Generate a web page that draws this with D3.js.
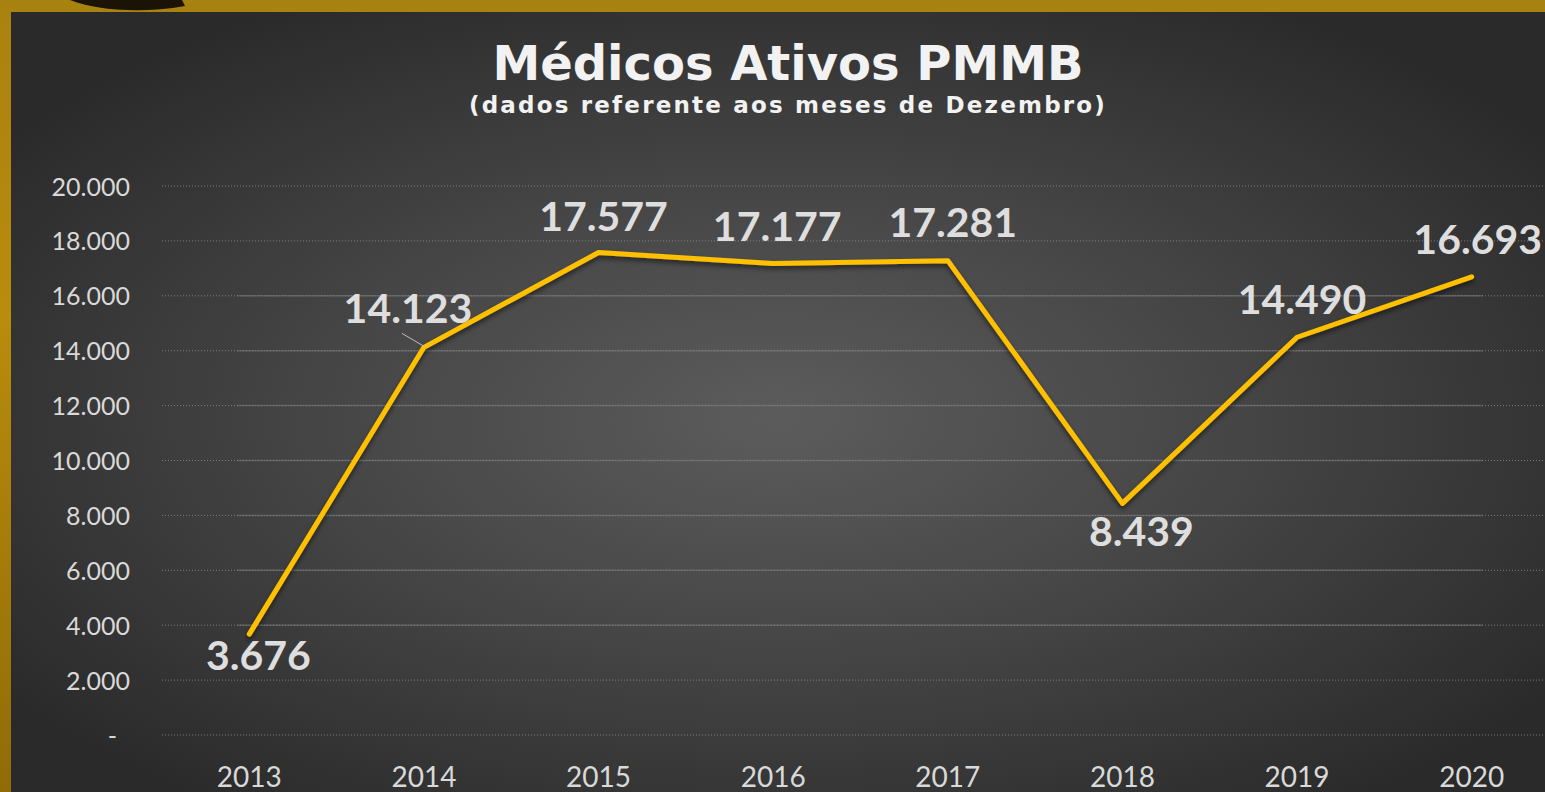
<!DOCTYPE html>
<html>
<head>
<meta charset="utf-8">
<script src="https://cdn.jsdelivr.net/npm/d3@7"></script>
<style>
  body { margin: 0; background: #a07a0a; }
  svg { display: block; }
</style>
</head>
<body>
<svg id="chart" width="1545" height="792"></svg>
<script>
const years = ["2013", "2014", "2015", "2016", "2017", "2018", "2019", "2020"];
const medicos = [3676, 14123, 17577, 17177, 17281, 8439, 14490, 16693];
const yTicks = [0, 2000, 4000, 6000, 8000, 10000, 12000, 14000, 16000, 18000, 20000];
const title = "Médicos Ativos PMMB";
const subtitle = "(dados referente aos meses de Dezembro)";

// label placement relative to the point (dx, dy of baseline)
const labelOffsets = [[9, 36], [-16, -24], [5, -22], [4, -22], [5, -24], [19, 43], [5, -23], [6, -23]];

const W = 1545, H = 792;
const margin = { top: 186, bottom: 57, left: 162, right: -14 };

const svg = d3.select("#chart");
const defs = svg.append("defs");

const gold = defs.append("linearGradient").attr("id", "gold")
  .attr("x1", 0).attr("y1", 0).attr("x2", 0).attr("y2", 1);
gold.append("stop").attr("offset", 0).attr("stop-color", "#a88210");
gold.append("stop").attr("offset", 0.4).attr("stop-color", "#b88c0c");
gold.append("stop").attr("offset", 1).attr("stop-color", "#8f6c08");

const panel = defs.append("radialGradient").attr("id", "panel")
  .attr("cx", 0.5).attr("cy", 0.52).attr("r", 0.62);
panel.append("stop").attr("offset", 0).attr("stop-color", "#5c5c5c");
panel.append("stop").attr("offset", 0.45).attr("stop-color", "#474747");
panel.append("stop").attr("offset", 1).attr("stop-color", "#2a2a2a");

const shadow = defs.append("filter").attr("id", "shadow")
  .attr("x", "-10%").attr("y", "-10%").attr("width", "120%").attr("height", "130%");
shadow.append("feDropShadow").attr("dx", 0).attr("dy", 3).attr("stdDeviation", 2.5)
  .attr("flood-color", "#000").attr("flood-opacity", 0.55);

svg.append("rect").attr("width", W).attr("height", H).attr("fill", "url(#gold)");
svg.append("path")
  .attr("d", "M70,0 C95,10 140,14 185,6 L182,0 Z")
  .attr("fill", "#1a1306");
svg.append("rect").attr("x", 11).attr("y", 12).attr("width", W - 11).attr("height", H - 12)
  .attr("fill", "url(#panel)");

const x = d3.scaleBand().domain(years)
  .range([margin.left, W - margin.right]).padding(0);
const y = d3.scaleLinear().domain([0, 20000]).range([H - margin.bottom, margin.top]);
const cx = d => x(d) + x.bandwidth() / 2;

// grid
const grid = svg.append("g");
grid.selectAll("line.dot").data(yTicks).join("line")
  .attr("class", "dot")
  .attr("x1", margin.left).attr("x2", W)
  .attr("y1", d => y(d)).attr("y2", d => y(d))
  .attr("stroke", "#9a9a9a").attr("stroke-width", 1)
  .attr("stroke-dasharray", "1,2").attr("opacity", 0.7);
grid.selectAll("line.solid").data(yTicks.filter(d => d >= 4000 && d <= 16000)).join("line")
  .attr("class", "solid")
  .attr("x1", cx(years[0]) - 12).attr("x2", cx(years[years.length - 1]) + 11)
  .attr("y1", d => y(d)).attr("y2", d => y(d))
  .attr("stroke", "#7a7a7a").attr("stroke-width", 1.5).attr("opacity", 0.55);

// y axis
const yAxis = svg.append("g")
  .attr("transform", `translate(130,0)`)
  .call(d3.axisLeft(y).tickValues(yTicks).tickSize(0).tickPadding(0)
    .tickFormat(d => d === 0 ? "-" : d3.format(",")(d).replace(/,/g, ".")));
yAxis.select(".domain").remove();
yAxis.selectAll("text")
  .attr("fill", "#d9d9d9")
  .style("font-family", "Lato, 'Open Sans', sans-serif")
  .style("font-size", "25px")
  .attr("dy", "0.36em")
  .attr("dx", d => d === 0 ? -13 : 0);

// x axis
const xAxis = svg.append("g")
  .attr("transform", `translate(0,${H - margin.bottom})`)
  .call(d3.axisBottom(x).tickSize(0).tickPadding(0));
xAxis.select(".domain").remove();
xAxis.selectAll("text")
  .attr("fill", "#d9d9d9")
  .style("font-family", "Lato, 'Open Sans', sans-serif")
  .style("font-size", "28px")
  .attr("y", 0)
  .attr("dy", 52);

// line
const line = d3.line().x((d, i) => cx(years[i])).y(d => y(d));
svg.append("path")
  .datum(medicos)
  .attr("fill", "none")
  .attr("stroke", "#ffc000")
  .attr("stroke-width", 5)
  .attr("stroke-linejoin", "round")
  .attr("stroke-linecap", "round")
  .attr("filter", "url(#shadow)")
  .attr("d", line);

// leader line for 2014
svg.append("line")
  .attr("x1", cx(years[1])).attr("y1", y(medicos[1]) - 1)
  .attr("x2", cx(years[1]) - 22).attr("y2", y(medicos[1]) - 14)
  .attr("stroke", "#bfbfbf").attr("stroke-width", 1);

// data labels
svg.append("g").selectAll("text").data(medicos).join("text")
  .attr("x", (d, i) => cx(years[i]) + labelOffsets[i][0])
  .attr("y", (d, i) => y(d) + labelOffsets[i][1])
  .attr("text-anchor", "middle")
  .attr("fill", "#dedede")
  .style("font-family", "Lato, 'Open Sans', sans-serif")
  .style("font-weight", "bold")
  .style("font-size", "41px")
  .text(d => d3.format(",")(d).replace(/,/g, "."));

// titles
svg.append("text")
  .attr("x", 788).attr("y", 80)
  .attr("text-anchor", "middle")
  .attr("fill", "#f2f2f2")
  .style("font-family", "'DejaVu Sans', Verdana, sans-serif")
  .style("font-weight", "bold")
  .style("font-size", "48px")
  .text(title);
svg.append("text")
  .attr("x", 788).attr("y", 113)
  .attr("text-anchor", "middle")
  .attr("fill", "#f2f2f2")
  .style("font-family", "'DejaVu Sans', Verdana, sans-serif")
  .style("font-weight", "bold")
  .style("font-size", "23px")
  .style("letter-spacing", "2.2px")
  .text(subtitle);
</script>
</body>
</html>
